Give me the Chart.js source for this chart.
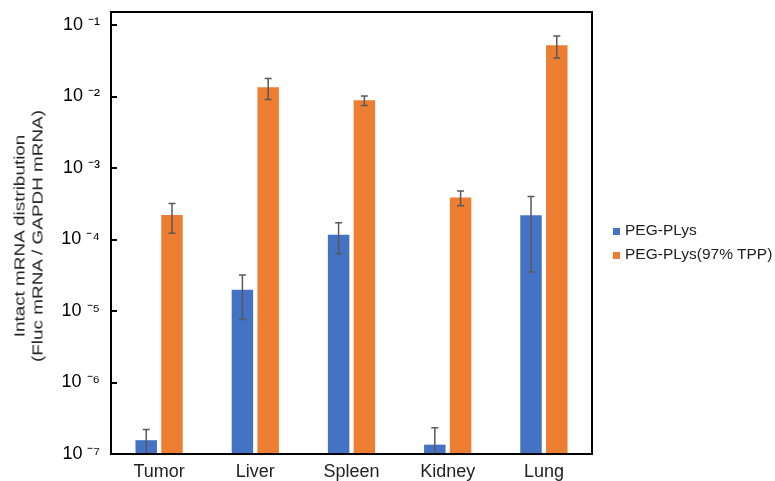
<!DOCTYPE html>
<html>
<head>
<meta charset="utf-8">
<script src="https://cdn.jsdelivr.net/npm/chart.js@4.4.1/dist/chart.umd.min.js"></script>
<style>
  body { margin: 0; background: #fff; }
  #wrap { position: relative; width: 775px; height: 481px; font-family: "Liberation Sans", Arial, Helvetica, sans-serif; }
  #organChart { position: absolute; left: 0; top: 0; }
  #yTitle {
    position: absolute; left: 29px; top: 236px;
    transform: translate(-50%, -50%) rotate(-90deg) scaleX(1.35);
    font-size: 14px; line-height: 17.5px; text-align: center; white-space: nowrap; color: #222;
  }
  #legend { position: absolute; left: 613px; top: 218px; font-size: 15.5px; line-height: 24px; color: #222; white-space: nowrap; }
  #legend .sw { display: inline-block; width: 7px; height: 7px; margin-right: 5px; vertical-align: baseline; }
</style>
</head>
<body>
<div id="wrap">
  <canvas id="organChart" width="775" height="481"></canvas>
  <div id="yTitle">Intact mRNA distribution<br>(Fluc mRNA / GAPDH mRNA)</div>
  <div id="legend"></div>
</div>
<script>
// values
const organs = ['Tumor', 'Liver', 'Spleen', 'Kidney', 'Lung'];
const pegPlys = [1.56e-7, 1.98e-5, 1.17e-4, 1.35e-7, 2.18e-4];
const pegPlysSd = [0.64e-7, 1.22e-5, 5.4e-5, 0.97e-7, 1.83e-4];
const pegPlysTpp = [2.2e-4, 1.345e-2, 8.83e-3, 3.86e-4, 5.22e-2];
const pegPlysTppSd = [0.98e-4, 4.4e-3, 1.35e-3, 0.9e-4, 1.77e-2];
const yTickExponents = [-7, -6, -5, -4, -3, -2, -1];

const FONT = '"Liberation Sans", Arial, Helvetica, sans-serif';
const SUP = { '-': '\u207B', '0': '\u2070', '1': '\u00B9', '2': '\u00B2', '3': '\u00B3', '4': '\u2074',
  '5': '\u2075', '6': '\u2076', '7': '\u2077', '8': '\u2078', '9': '\u2079' };

function powerLabel(value) {
  const e = Math.round(Math.log10(value));
  return '10 ' + String(e).split('').map(c => SUP[c]).join('');
}

// error bars (mean +/- SD), clipped to the plot box
const errorBars = {
  id: 'errorBars',
  afterDatasetsDraw(chart) {
    const ctx = chart.ctx;
    const y = chart.scales.y;
    const area = chart.chartArea;
    ctx.save();
    ctx.beginPath();
    ctx.rect(area.left, area.top, area.right - area.left, area.bottom - area.top);
    ctx.clip();
    ctx.strokeStyle = '#595959';
    ctx.lineWidth = 1.5;
    chart.data.datasets.forEach((ds, i) => {
      chart.getDatasetMeta(i).data.forEach((bar, j) => {
        const v = ds.data[j], sd = ds.sd[j];
        const top = y.getPixelForValue(v + sd);
        const bottom = v - sd > 0 ? y.getPixelForValue(v - sd) : area.bottom + 10;
        ctx.beginPath();
        ctx.moveTo(bar.x, top);
        ctx.lineTo(bar.x, bottom);
        ctx.moveTo(bar.x - 3.5, top);
        ctx.lineTo(bar.x + 3.5, top);
        ctx.moveTo(bar.x - 3.5, bottom);
        ctx.lineTo(bar.x + 3.5, bottom);
        ctx.stroke();
      });
    });
    ctx.restore();
  }
};

// frame around the plot, with inward tick marks at the y ticks
const plotBox = {
  id: 'plotBox',
  afterDraw(chart) {
    const a = chart.chartArea;
    const y = chart.scales.y;
    const ctx = chart.ctx;
    ctx.save();
    ctx.strokeStyle = '#000';
    ctx.lineWidth = 2;
    ctx.strokeRect(a.left, a.top, a.right - a.left, a.bottom - a.top);
    ctx.beginPath();
    y.ticks.forEach(t => {
      const py = Math.round(y.getPixelForValue(t.value));
      ctx.moveTo(a.left, py);
      ctx.lineTo(a.left + 6, py);
    });
    ctx.stroke();
    ctx.restore();
  }
};

const datasets = [
  { label: 'PEG-PLys', data: pegPlys, sd: pegPlysSd, backgroundColor: '#4472C4' },
  { label: 'PEG-PLys(97% TPP)', data: pegPlysTpp, sd: pegPlysTppSd, backgroundColor: '#ED7D31' }
];

const chart = new Chart(document.getElementById('organChart'), {
  type: 'bar',
  data: {
    labels: organs,
    datasets: datasets.map(d => Object.assign({ categoryPercentage: 0.536, barPercentage: 0.833 }, d))
  },
  options: {
    responsive: false,
    animation: false,
    layout: { autoPadding: false, padding: { left: 50, right: 183, top: 12, bottom: 0 } },
    plugins: { legend: { display: false }, tooltip: { enabled: false } },
    scales: {
      x: {
        grid: { display: false, drawTicks: false },
        border: { display: false },
        ticks: { color: '#222', padding: 7, font: { family: FONT, size: 18 } },
        afterFit(scale) { scale.height = 27; scale.paddingLeft = 0; scale.paddingRight = 0; }
      },
      y: {
        type: 'logarithmic',
        min: 1e-7,
        max: 0.152,
        border: { display: false },
        grid: { display: false, drawTicks: false },
        afterBuildTicks(scale) { scale.ticks = yTickExponents.map(e => ({ value: Math.pow(10, e) })); },
        ticks: { color: '#000', padding: 11, font: { family: FONT, size: 18 }, callback: v => powerLabel(v) },
        afterFit(scale) { scale.width = 61; scale.paddingTop = 0; scale.paddingBottom = 0; }
      }
    }
  },
  plugins: [errorBars, plotBox]
});

// legend
const legend = document.getElementById('legend');
datasets.forEach(d => {
  const row = document.createElement('div');
  row.innerHTML = '<span class="sw" style="background:' + d.backgroundColor + '"></span>' + d.label;
  legend.appendChild(row);
});
</script>
</body>
</html>
